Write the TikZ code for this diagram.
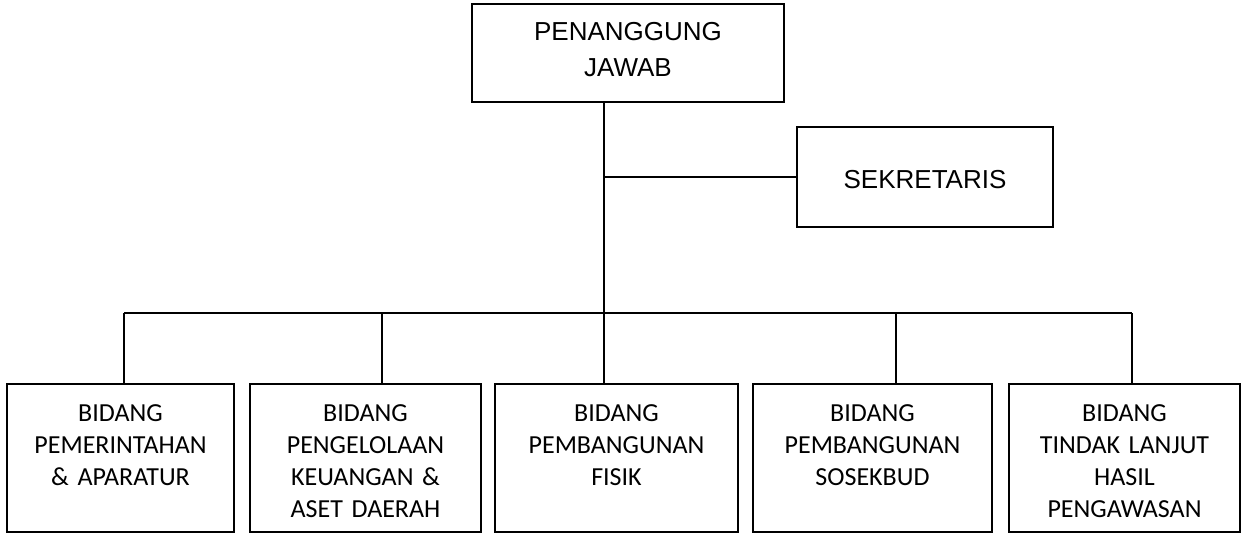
\documentclass[tikz,border=0pt]{standalone}
\usepackage{fontspec}
\setmainfont{Liberation Sans}
\newfontfamily\calib{Carlito}
\begin{document}
\begin{tikzpicture}[x=1pt,y=-1pt,
  boxstyle/.style={draw=black, line width=1.6pt, rectangle, inner sep=0pt, fill=none},
  toptext/.style={inner sep=0pt, align=center, text width=300pt, font=\fontsize{26}{35.3}\selectfont},
  btext/.style={inner sep=0pt, align=center, text width=225pt, font=\calib\fontsize{26}{32}\selectfont},
  link/.style={draw=black, line width=1.4pt}]
\useasboundingbox (0,0) rectangle (1242,533);
% boxes
\node[boxstyle, minimum width=312pt, minimum height=97.7pt] (top) at (628,52.85) {};
\node[boxstyle, minimum width=256pt, minimum height=100pt] (sek) at (925,177) {};
\node[boxstyle, minimum width=227pt, minimum height=148pt] (b1) at (120.5,458) {};
\node[boxstyle, minimum width=231pt, minimum height=148pt] (b2) at (365.5,458) {};
\node[boxstyle, minimum width=243pt, minimum height=148pt] (b3) at (616.5,458) {};
\node[boxstyle, minimum width=239pt, minimum height=148pt] (b4) at (872.5,458) {};
\node[boxstyle, minimum width=231pt, minimum height=148pt] (b5) at (1124.5,458) {};
% texts
\node[toptext, anchor=base] (ttop) at (628,40.7) {PENANGGUNG\\JAWAB};
\node[toptext, anchor=base, text width=250pt] (tsek) at (925,188) {SEKRETARIS};
\node[btext, anchor=base] (t1) at (120.5,421) {BIDANG\\PEMERINTAHAN\\\& APARATUR};
\node[btext, anchor=base] (t2) at (365.5,421) {BIDANG\\PENGELOLAAN\\KEUANGAN \&\\ASET DAERAH};
\node[btext, anchor=base] (t3) at (616.5,421) {BIDANG\\PEMBANGUNAN\\FISIK};
\node[btext, anchor=base] (t4) at (872.5,421) {BIDANG\\PEMBANGUNAN\\SOSEKBUD};
\node[btext, anchor=base] (t5) at (1124.5,421) {BIDANG\\TINDAK LANJUT\\HASIL\\PENGAWASAN};
% junction coordinates
\coordinate (js) at (604,177);
\coordinate (d1) at (124,313);
\coordinate (d2) at (382,313);
\coordinate (d3) at (604,313);
\coordinate (d4) at (896,313);
\coordinate (d5) at (1132,313);
% connectors
\draw[link] (top.south -| d3) -- (d3);
\draw[link] (js) -- (sek.west);
\draw[link] (d1) -- (d5);
\draw[link] (d1) -- (d1 |- b1.north);
\draw[link] (d2) -- (d2 |- b2.north);
\draw[link] (d3) -- (d3 |- b3.north);
\draw[link] (d4) -- (d4 |- b4.north);
\draw[link] (d5) -- (d5 |- b5.north);
\end{tikzpicture}
\end{document}
